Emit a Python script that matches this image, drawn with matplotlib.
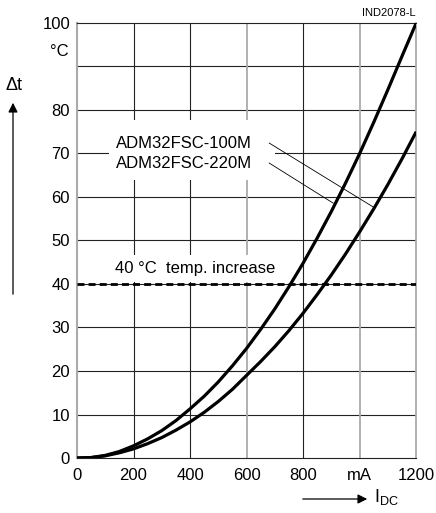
import numpy as np
import matplotlib
matplotlib.use("Agg")
import matplotlib.pyplot as plt
from matplotlib.patches import Rectangle, FancyArrowPatch

plt.rcParams['font.family'] = ['Liberation Sans', 'DejaVu Sans']

# (mA, deg C)
current = [0, 50, 100, 150, 200, 250, 300, 350, 400, 450, 500, 550, 600,
           650, 700, 750, 800, 850, 900, 950, 1000, 1050, 1100, 1150, 1200]
t_220 = [0, 0.1, 0.6, 1.5, 2.8, 4.4, 6.3, 8.6, 11.3, 14.2, 17.5, 21.2, 25.2,
         29.6, 34.3, 39.4, 44.8, 50.6, 56.7, 63.2, 70.0, 77.2, 84.7, 92.4, 100]
t_100 = [0, 0.1, 0.5, 1.2, 2.1, 3.3, 4.7, 6.4, 8.3, 10.5, 13.0, 15.8, 19.0,
         22.2, 25.6, 29.3, 33.3, 37.6, 42.1, 46.9, 52.0, 57.3, 62.9, 68.8, 75.0]
limit = 40
xticks = [0, 200, 400, 600, 800, 1000, 1200]
xlabels = ['0', '200', '400', '600', '800', 'mA', '1200']
yticks = [0, 10, 20, 30, 40, 50, 60, 70, 80, 100]
ygrid = [10, 20, 30, 40, 50, 60, 70, 80, 90]

fig = plt.figure(figsize=(4.36, 5.13), dpi=100)
ax = fig.add_axes([0.1766, 0.1072, 0.778, 0.848])
ax.set_xlim(0, 1200)
ax.set_ylim(0, 100)

# grid
for g in ygrid:
    ax.axhline(g, color='#222222', lw=0.8, zorder=1)
for g in [200, 400, 800]:
    ax.axvline(g, color='#222222', lw=0.8, zorder=1)
for g in [600, 1000]:
    ax.axvline(g, color='#aaaaaa', lw=1.3, zorder=1)
for s in ax.spines.values():
    s.set_color('#222222')
    s.set_linewidth(0.8)
ax.spines['left'].set_color('#aaaaaa')
ax.spines['left'].set_linewidth(1.5)
ax.spines['right'].set_color('#aaaaaa')
ax.spines['right'].set_linewidth(1.3)

# white boxes behind labels
ax.add_patch(Rectangle((113, 63.9), 588, 13.8, facecolor='white', edgecolor='none', zorder=2))
ax.add_patch(Rectangle((20, 40.4), 720, 6.3, facecolor='white', edgecolor='none', zorder=2))

ax.axhline(limit, color='black', lw=2, linestyle=(0, (2.5, 1.5)), zorder=3)
ax.plot(current, t_220, color='black', lw=2.3, zorder=4, solid_capstyle='butt')
ax.plot(current, t_100, color='black', lw=2.3, zorder=4, solid_capstyle='butt')

ax.text(135, 43.6, '40 °C  temp. increase', fontsize=12, va='center', ha='left', zorder=3)
ax.text(138, 72.4, 'ADM32FSC-100M', fontsize=12, va='center', ha='left', zorder=3)
ax.text(138, 67.8, 'ADM32FSC-220M', fontsize=12, va='center', ha='left', zorder=3)
ax.plot([680, 1048], [72.4, 57.7], color='black', lw=0.6, zorder=3)
ax.plot([680, 906], [67.8, 58.6], color='black', lw=0.6, zorder=3)

ax.set_xticks(xticks)
ax.set_xticklabels(xlabels, fontsize=12)
ax.set_yticks(yticks)
ax.set_yticklabels([str(v) for v in yticks], fontsize=12)
ax.tick_params(axis='y', length=0, pad=5)
ax.tick_params(axis='x', length=0, pad=7)
ax.text(-0.025, 93.5, '°C', fontsize=12, ha='right', va='center', transform=ax.get_yaxis_transform())

# axis captions with arrows
fig.text(14 / 436, 1 - 85 / 513, 'Δt', fontsize=13, ha='center', va='center')
fig.add_artist(FancyArrowPatch((13 / 436, 1 - 297 / 513), (13 / 436, 1 - 100 / 513),
               transform=fig.transFigure, arrowstyle='-|>', mutation_scale=14, lw=0.9, color='black'))
fig.add_artist(FancyArrowPatch((300 / 436, 1 - 499 / 513), (370 / 436, 1 - 499 / 513),
               transform=fig.transFigure, arrowstyle='-|>', mutation_scale=14, lw=0.9, color='black'))
fig.text(374 / 436, 1 - 497 / 513, r'I$_{\mathregular{DC}}$', fontsize=13, ha='left', va='center')
fig.text(416 / 436, 1 - 13 / 513, 'IND2078-L', fontsize=8, ha='right', va='center')

fig.savefig('out.png', dpi=100)
